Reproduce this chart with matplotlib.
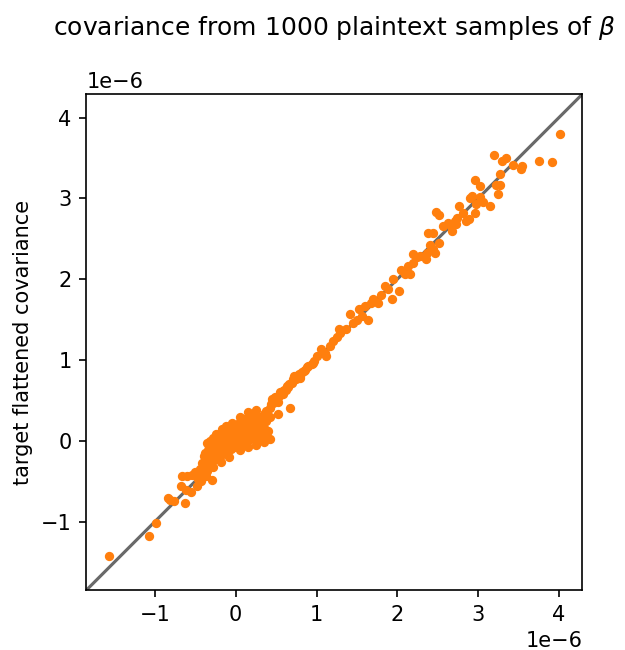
import matplotlib
matplotlib.use("Agg")
import matplotlib.pyplot as plt
import numpy as np

# values in units of 1e-6
# sparse tail below the central cluster
tail_lo_x = [-1.57, -1.08, -0.99, -0.84, -0.82, -0.76, -0.63, -0.68, -0.61, -0.55,
             -0.48, -0.66, -0.60, -0.54, -0.50, -0.44, -0.40, -0.37, -0.30, -0.39,
             -0.36, -0.32, -0.30, -0.33, -0.17, -0.42, -0.45, -0.47, -0.43, -0.38]
tail_lo_y = [-1.43, -1.18, -1.02, -0.71, -0.73, -0.75, -0.77, -0.56, -0.61, -0.63,
             -0.56, -0.43, -0.43, -0.42, -0.39, -0.35, -0.41, -0.44, -0.48, -0.19,
             -0.30, -0.23, -0.02, -0.08, 0.15, -0.28, -0.38, -0.47, -0.50, -0.36]

# dense cluster around zero
cluster_x = [-0.36, -0.32, -0.28, -0.24, -0.20, -0.16, -0.12, -0.08, -0.04, 0.00,
             0.04, 0.08, 0.12, 0.16, 0.20, 0.24, 0.28, 0.32,
             -0.38, -0.34, -0.30, -0.26, -0.22, -0.18, -0.14, -0.10, -0.06, -0.02,
             0.02, 0.06, 0.10, 0.14, 0.18, 0.22, 0.26, 0.30, 0.34, 0.38,
             -0.34, -0.30, -0.26, -0.22, -0.18, -0.14, -0.10, -0.06, -0.02, 0.02,
             0.06, 0.10, 0.14, 0.18, 0.22, 0.26, 0.30, 0.34,
             -0.32, -0.28, -0.24, -0.20, -0.16, -0.12, -0.08, -0.04, 0.00, 0.04,
             0.08, 0.12, 0.16, 0.20, 0.24, 0.28,
             -0.30, -0.22, -0.14, -0.06, 0.02, 0.10, 0.18, 0.26,
             -0.25, -0.12, -0.05, 0.05, 0.15, 0.25, 0.35, 0.42,
             -0.40, -0.35, -0.28, -0.18, -0.08, 0.05, 0.15, 0.25, 0.35, 0.42,
             0.21, 0.25, 0.29, 0.33, 0.37, 0.23, 0.27, 0.31, 0.35, 0.39,
             -0.10, -0.02, 0.06, 0.14, -0.26, -0.18]
cluster_y = [-0.03, 0.00, 0.03, 0.02, 0.06, 0.08, 0.10, 0.13, 0.15, 0.18,
             0.22, 0.25, 0.27, 0.30, 0.33, 0.31, 0.30, 0.29,
             -0.15, -0.12, -0.10, -0.08, -0.06, -0.04, -0.02, 0.01, 0.03, 0.05,
             0.06, 0.09, 0.12, 0.14, 0.16, 0.18, 0.17, 0.20, 0.19, 0.24,
             -0.28, -0.25, -0.22, -0.20, -0.17, -0.15, -0.12, -0.10, -0.08, -0.06,
             -0.04, -0.02, 0.00, 0.02, 0.03, 0.05, 0.06, 0.08,
             -0.20, -0.17, -0.14, -0.12, -0.09, -0.06, -0.04, -0.02, 0.00, 0.02,
             0.04, 0.06, 0.08, 0.10, 0.11, 0.12,
             -0.04, 0.01, 0.05, 0.09, 0.12, 0.18, 0.22, 0.24,
             0.08, 0.18, 0.22, 0.30, 0.36, 0.38, 0.33, 0.30,
             -0.35, -0.38, -0.33, -0.26, -0.20, -0.12, -0.08, -0.05, -0.02, 0.02,
             0.22, 0.24, 0.13, 0.12, 0.10, 0.02, 0.10, 0.02, 0.16, 0.12,
             -0.06, 0.10, 0.16, 0.20, -0.02, -0.10]

# band between the cluster and the upper tail
band_x = [0.42, 0.46, 0.50, 0.54, 0.58, 0.62, 0.66, 0.70, 0.74, 0.78, 0.84, 0.90,
          0.96, 0.45, 0.52, 0.58, 0.65, 0.72, 0.80]
band_y = [0.40, 0.47, 0.50, 0.56, 0.58, 0.63, 0.70, 0.72, 0.77, 0.83, 0.86, 0.92,
          0.96, 0.52, 0.48, 0.62, 0.66, 0.80, 0.80]

# upper part of the diagonal
tail_hi_x = [0.38, 0.40, 0.44, 0.49, 0.52, 0.55, 0.60, 0.63, 0.67, 0.71, 0.75, 0.79,
             0.82, 0.86, 0.88, 0.94, 0.97, 1.00, 1.06, 1.10, 1.12, 1.17, 1.21, 1.25,
             1.29, 1.28, 1.37, 1.41, 1.45, 1.50, 1.52, 1.56, 1.60, 1.64, 1.67, 1.70,
             1.76, 1.80, 1.85, 1.89, 1.93, 1.95, 2.02, 2.05, 2.09, 2.13, 2.16, 2.20,
             2.19, 2.24, 2.28, 2.35, 2.37, 2.41, 2.44, 2.47, 2.38, 2.44, 2.52, 2.48,
             2.52, 2.56, 2.63, 2.66, 2.68, 2.71, 2.73, 2.74, 2.77, 2.81, 2.85, 2.89,
             2.90, 2.92, 2.96, 2.96, 3.02, 3.02, 2.98, 3.06, 3.15, 3.20, 3.22, 3.27,
             3.25, 3.27, 3.30, 3.34, 3.43, 3.53, 3.55, 3.75, 3.92, 4.02]
tail_hi_y = [0.37, 0.12, 0.45, 0.54, 0.33, 0.60, 0.63, 0.68, 0.40, 0.76, 0.80, 0.78,
             0.85, 0.87, 0.91, 0.95, 0.99, 1.05, 1.13, 1.09, 1.05, 1.17, 1.24, 1.28,
             1.34, 1.38, 1.38, 1.57, 1.46, 1.50, 1.63, 1.55, 1.67, 1.50, 1.71, 1.75,
             1.71, 1.81, 1.92, 1.88, 1.76, 2.00, 1.86, 2.12, 2.06, 2.16, 2.06, 2.20,
             2.31, 2.27, 2.29, 2.25, 2.33, 2.42, 2.37, 2.33, 2.57, 2.57, 2.45, 2.83,
             2.80, 2.66, 2.70, 2.66, 2.60, 2.72, 2.68, 2.76, 2.91, 2.82, 2.72, 2.74,
             3.01, 3.03, 2.82, 3.23, 3.15, 3.02, 2.93, 2.95, 2.91, 3.54, 3.17, 3.17,
             3.05, 3.30, 3.46, 3.50, 3.42, 3.36, 3.40, 3.46, 3.45, 3.80]

xs = np.array(tail_lo_x + cluster_x + band_x + tail_hi_x) * 1e-6
ys = np.array(tail_lo_y + cluster_y + band_y + tail_hi_y) * 1e-6

lo, hi = -1.85e-6, 4.29e-6

fig, ax = plt.subplots(figsize=(626 / 150, 650 / 150), dpi=150)
fig.subplots_adjust(left=0.137, right=0.931, bottom=0.092, top=0.855)

ax.plot([lo, hi], [lo, hi], color="dimgray", lw=1.5, zorder=1)
ax.scatter(xs, ys, s=12, color="tab:orange", zorder=2)

ax.set_xlim(lo, hi)
ax.set_ylim(lo, hi)
ax.set_aspect("equal")
ax.set_ylabel("target flattened covariance")
ax.set_title(r"covariance from 1000 plaintext samples of $\beta$", y=1.094)

fig.savefig("out.png", dpi=150)
